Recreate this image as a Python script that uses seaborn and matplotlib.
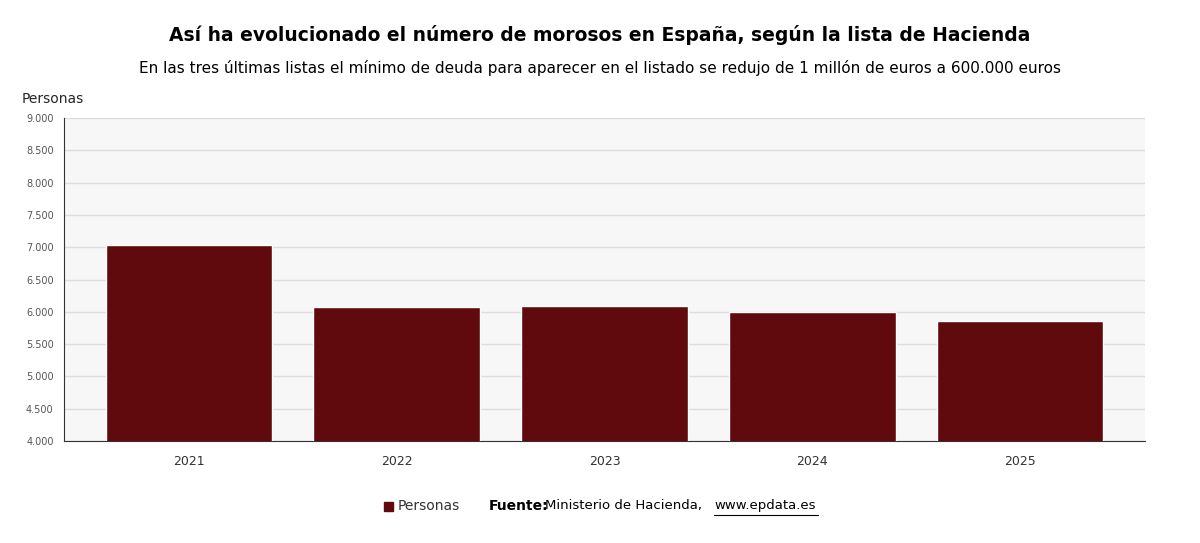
import matplotlib
matplotlib.use('Agg')
import matplotlib.pyplot as plt
import seaborn as sns
import pandas as pd
from matplotlib.ticker import FuncFormatter
from matplotlib.patches import Rectangle

years = ['2021', '2022', '2023', '2024', '2025']
personas = [7034, 6074, 6090, 5997, 5858]

sns.set_style('white')
plt.rcParams['font.family'] = ['DejaVu Sans']

df = pd.DataFrame({'year': years, 'personas': personas})
fig = plt.figure(figsize=(12, 5.43), dpi=100)
ax = fig.add_axes([64 / 1200, 1 - 441 / 543, (1145 - 64) / 1200, (441 - 118) / 543])
ax.set_facecolor('#f7f7f7')
sns.barplot(data=df, x='year', y='personas', color='#600a0d', width=0.8, saturation=1, ax=ax, zorder=3)
ax.set_xlim(-0.6, 4.6)
ax.set_ylim(4000, 9000)
ax.set_yticks(range(4000, 9001, 500))
ax.yaxis.set_major_formatter(FuncFormatter(lambda v, p: f'{int(v):,}'.replace(',', '.')))
ax.grid(axis='y', color='#dddddd', linewidth=1, zorder=0)
ax.set_xlabel('')
ax.set_ylabel('')
ax.tick_params(axis='y', labelsize=7, colors='#555555', length=4)
ax.tick_params(axis='x', labelsize=9, colors='#333333', length=4, pad=6)
for s in ['top', 'right']:
    ax.spines[s].set_visible(False)
ax.spines['left'].set_color('#333333')
ax.spines['bottom'].set_color('#333333')

fig.text(0.5, 1 - 35 / 543, 'Así ha evolucionado el número de morosos en España, según la lista de Hacienda',
         ha='center', va='center', fontsize=13.5, fontweight='bold', color='black')
fig.text(0.5, 1 - 68 / 543, 'En las tres últimas listas el mínimo de deuda para aparecer en el listado se redujo de 1 millón de euros a 600.000 euros',
         ha='center', va='center', fontsize=11, color='black')
fig.text(22 / 1200, 1 - 99 / 543, 'Personas', ha='left', va='center', fontsize=10)

fig.patches.append(Rectangle((384 / 1200, 1 - 511 / 543), 9 / 1200, 9 / 543,
                             transform=fig.transFigure, color='#600a0d'))
fig.text(398 / 1200, 1 - 506 / 543, 'Personas', ha='left', va='center', fontsize=10, color='#333333')
fig.text(489 / 1200, 1 - 506 / 543, 'Fuente:', ha='left', va='center', fontsize=10, fontweight='bold', color='black')
fig.text(545 / 1200, 1 - 506 / 543, 'Ministerio de Hacienda,', ha='left', va='center', fontsize=9.5, color='black')
fig.text(714 / 1200, 1 - 506 / 543, 'www.epdata.es', ha='left', va='center', fontsize=9.5, color='black')
fig.add_artist(plt.Line2D([714 / 1200, 818 / 1200], [1 - 515 / 543] * 2, color='black', linewidth=0.8))

fig.savefig('out.png', dpi=100)
